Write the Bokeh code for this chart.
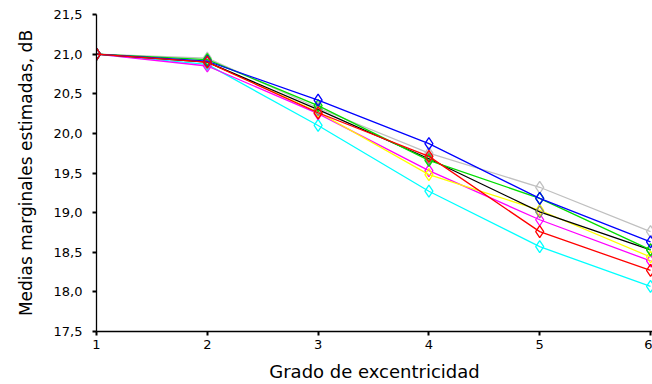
from bokeh.plotting import figure
from bokeh.embed import file_html
from bokeh.resources import INLINE
from bokeh.models import Range1d, FixedTicker

x = [1, 2, 3, 4, 5, 6]
s_cyan = [21.0, 20.87, 20.10, 19.27, 18.57, 18.07]
s_magenta = [21.0, 20.85, 20.25, 19.53, 18.91, 18.39]
s_yellow = [21.0, 20.90, 20.27, 19.48, 19.03, 18.44]
s_gray = [21.0, 20.95, 20.32, 19.75, 19.32, 18.76]
s_black = [21.0, 20.90, 20.30, 19.68, 19.01, 18.53]
s_green = [21.0, 20.93, 20.35, 19.66, 19.18, 18.53]
s_blue = [21.0, 20.91, 20.42, 19.87, 19.18, 18.63]
s_red = [21.0, 20.90, 20.26, 19.71, 18.76, 18.27]

yticks = [17.5, 18.0, 18.5, 19.0, 19.5, 20.0, 20.5, 21.0, 21.5]
xticks = [1, 2, 3, 4, 5, 6]

p = figure(width=652, height=384, output_backend="svg", toolbar_location=None,
           x_range=Range1d(1, 6.018), y_range=Range1d(17.5, 21.5),
           min_border_left=96, min_border_right=0, min_border_top=14, min_border_bottom=53)
p.outline_line_color = None
p.grid.visible = False

series = [
    (s_cyan, "#00ffff", "#00ffff"),
    (s_magenta, "#ff00ff", "#ff00ff"),
    (s_yellow, "#ffff00", "#ffff00"),
    (s_gray, "#c0c0c0", "#c0c0c0"),
    (s_black, "#000000", "#808080"),
    (s_green, "#00dd00", "#00dd00"),
    (s_blue, "#0000ff", "#0000ff"),
    (s_red, "#ff0000", "#ff0000"),
]
for ys, lc, mc in series:
    p.line(x, ys, line_color=lc, line_width=1.3)
    p.scatter(x, ys, marker="diamond", size=12, fill_color=None, line_color=mc, line_width=1.3)

p.yaxis.ticker = FixedTicker(ticks=yticks)
p.xaxis.ticker = FixedTicker(ticks=xticks)
p.yaxis.major_label_overrides = {t: f"{t:.1f}".replace(".", ",") for t in yticks}
p.xaxis.major_label_overrides = {t: str(t) for t in xticks}
for ax in (p.xaxis, p.yaxis):
    ax.minor_tick_line_color = None
    ax.major_tick_out = 4
    ax.major_tick_in = 0
    ax.major_tick_line_width = 2
    ax.axis_line_color = "#000000"
    ax.axis_line_width = 1.3
    ax.major_label_text_font = "DejaVu Sans"
    ax.major_label_text_font_size = "13px"
    ax.major_label_text_color = "#000000"
    ax.axis_label_text_font = "DejaVu Sans"
    ax.axis_label_text_font_style = "normal"
    ax.axis_label_text_color = "#000000"
p.xaxis.axis_label_text_font_size = "18px"
p.yaxis.axis_label_text_font_size = "17px"
p.yaxis.axis_label = "Medias marginales estimadas, dB"
p.xaxis.axis_label = "Grado de excentricidad"
p.yaxis.major_label_standoff = 10
p.xaxis.major_label_standoff = 4
p.xaxis.axis_label_standoff = 9
p.yaxis.axis_label_standoff = 15

open("out.html", "w").write(file_html(p, INLINE))
